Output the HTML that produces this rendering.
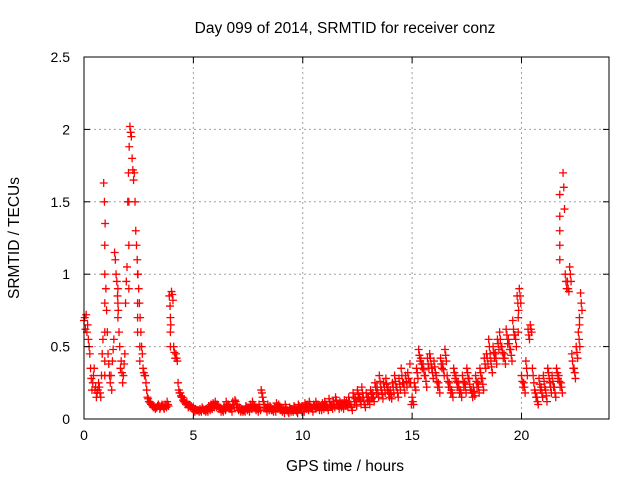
<!DOCTYPE html>
<html><head><meta charset="utf-8"><style>
html,body{margin:0;padding:0;background:#fff;}
svg{display:block;font-family:"Liberation Sans",sans-serif;}
</style></head><body>
<svg id="chart" width="640" height="480" xmlns="http://www.w3.org/2000/svg">
<rect width="640" height="480" fill="#fff"/>
<text x="345" y="33" font-size="15.5" text-anchor="middle">Day 099 of 2014, SRMTID for receiver conz</text>
<text x="345" y="471" font-size="15.5" text-anchor="middle">GPS time / hours</text>
<text x="19" y="238" font-size="15.5" text-anchor="middle" transform="rotate(-90 19 238)">SRMTID / TECUs</text>
<g id="grid"></g><g id="marks"></g><g id="axes"></g>
</svg>
<script>
const xTicks=[0,5,10,15,20];
const yTicks=[0,0.5,1,1.5,2,2.5];
const yTickLabels=["0","0.5","1","1.5","2","2.5"];
const seriesA=[.68,.72,.55,.35,.25,.2,.18,.22,.3,1.63,
.9,.45,.25,.4,1.15,.95,.6,.4,.3,.8,
1.5,2.02,1.8,1.7,1.2,.9,.6,.35,.3,.15,
.12,.1,.09,.08,.1,.08,.09,.1,.12,.85,
.88,.5,.45,.25,.18,.15,.12,.12,.1,.09,
.08,.07,.06,.07,.08,.06,.07,.09,.1,.11,
.12,.1,.08,.07,.09,.12,.1,.08,.12,.13,
.1,.08,.07,.06,.09,.08,.1,.12,.09,.08,
.1,.2,.12,.08,.1,.09,.07,.08,.11,.1,
.08,.07,.1,.06,.08,.07,.09,.06,.1,.08,
.09,.11,.1,.12,.08,.1,.12,.1,.09,.11,
.12,.1,.14,.1,.12,.15,.1,.12,.11,.13,
.12,.15,.1,.18,.14,.2,.15,.22,.12,.18,
.15,.2,.18,.25,.22,.3,.2,.25,.28,.22,
.2,.25,.3,.22,.28,.35,.25,.3,.32,.38,
.15,.25,.35,.48,.42,.38,.3,.42,.45,.35,
.4,.3,.25,.42,.38,.48,.3,.25,.2,.35,
.3,.25,.2,.3,.25,.35,.28,.2,.22,.3,
.25,.35,.28,.42,.45,.55,.4,.5,.45,.55,
.6,.5,.45,.62,.55,.48,.68,.58,.85,.9,
.3,.25,.4,.62,.65,.35,.2,.15,.28,.22,
.3,.2,.35,.25,.3,.22,.35,.3,.25,1.7,
1.0,.95,1.05,.45,.35,.5,.6,.87];
const seriesB=[.62,.65,.45,.2,.35,.15,.25,.15,.55,1.35,
.6,.3,.2,.55,1.0,.75,.35,.25,.45,1.05,
1.88,1.95,1.65,1.3,1.0,.7,.45,.3,.2,.12,
.1,.08,.07,.09,.07,.1,.07,.08,.09,.65,
.82,.42,.4,.18,.15,.12,.1,.08,.08,.07,
.05,.06,.05,.05,.06,.05,.05,.06,.07,.08,
.08,.07,.05,.05,.06,.08,.07,.05,.08,.1,
.06,.05,.05,.05,.06,.05,.07,.08,.06,.05,
.06,.15,.08,.05,.06,.06,.05,.05,.07,.06,
.05,.04,.06,.04,.05,.05,.06,.04,.07,.05,
.05,.07,.06,.08,.05,.07,.08,.06,.06,.07,
.08,.06,.09,.07,.08,.1,.07,.08,.07,.09,
.08,.1,.06,.12,.09,.14,.1,.15,.08,.12,
.1,.14,.12,.18,.15,.22,.14,.18,.2,.15,
.14,.18,.22,.15,.2,.25,.18,.22,.25,.1,
.1,.2,.28,.4,.35,.3,.22,.35,.38,.28,
.32,.22,.18,.35,.3,.4,.22,.18,.15,.28,
.22,.18,.15,.22,.18,.28,.2,.15,.16,.22,
.18,.28,.2,.35,.38,.45,.32,.42,.38,.48,
.5,.42,.38,.52,.48,.4,.58,.5,.75,.8,
.22,.18,.3,.55,.6,.25,.15,.1,.2,.15,
.22,.12,.28,.18,.22,.15,.28,.22,.18,1.45,
.9,.88,.95,.35,.28,.42,.5,.75];
const seriesC=[.7,.6,.5,.28,.3,.22,.2,.18,.45,1.5,
.75,.38,.3,.48,1.1,.85,.5,.32,.38,.95,
1.7,1.98,1.72,1.5,1.1,.8,.5,.32,.25,.14,
.11,.09,.08,.08,.09,.09,.08,.09,.1,.78,
.86,.46,.42,.2,.16,.13,.11,.1,.09,.08,
.07,.06,.06,.06,.07,.06,.06,.08,.09,.1,
.1,.09,.07,.06,.08,.1,.09,.07,.1,.12,
.08,.07,.06,.06,.08,.07,.09,.1,.08,.07,
.08,.18,.1,.07,.08,.08,.06,.07,.09,.08,
.07,.06,.08,.05,.07,.06,.08,.05,.09,.07,
.07,.09,.08,.1,.07,.09,.1,.08,.08,.09,
.1,.08,.12,.09,.1,.13,.09,.1,.09,.11,
.1,.12,.08,.15,.12,.17,.13,.18,.1,.15,
.13,.17,.15,.22,.18,.26,.17,.22,.24,.18,
.17,.22,.26,.18,.24,.3,.22,.26,.28,.25,
.12,.22,.32,.44,.38,.34,.26,.38,.42,.32,
.36,.26,.22,.38,.34,.44,.26,.22,.18,.32,
.26,.22,.18,.26,.22,.32,.24,.18,.19,.26,
.22,.32,.24,.38,.42,.5,.36,.46,.42,.52,
.55,.46,.42,.58,.52,.44,.62,.55,.8,.85,
.26,.22,.35,.58,.62,.3,.18,.12,.24,.18,
.26,.16,.32,.22,.26,.18,.32,.26,.22,1.6,
.95,.9,1.0,.4,.32,.46,.55,.8];
const extraT=[0.95,0.95,0.95,0.95,0.95,0.95,1.55,1.55,1.55,2.05,2.05,2.05,2.45,2.45,2.45,2.45,2.55,2.55,3.95,3.95,3.95,19.85,19.85,21.75,21.75,21.75,21.75,21.75,22.65,22.65];
const extraV=[1.2,1.0,0.8,0.6,0.4,0.3,0.9,0.8,0.7,1.5,1.2,0.9,1.0,0.8,0.7,0.6,0.5,0.4,0.7,0.6,0.5,0.7,0.6,1.55,1.4,1.3,1.2,1.1,0.7,0.65];
const L=84,R=609,T=57,B=419,XMAX=24,YMAX=2.5;
const sx=v=>L+v/XMAX*(R-L), sy=v=>B-v/YMAX*(B-T);
const NS="http://www.w3.org/2000/svg";
function mk(tag,attrs,parent){const e=document.createElementNS(NS,tag);for(const k in attrs)e.setAttribute(k,attrs[k]);parent.appendChild(e);return e;}
const grid=document.getElementById('grid'),marks=document.getElementById('marks'),axes=document.getElementById('axes');
xTicks.forEach(t=>{const x=sx(t);
 if(t>0){const g=mk('line',{x1:x,x2:x,y1:T,y2:B,stroke:'#a0a0a0','stroke-dasharray':'2,3'},grid);
 
 }
 mk('line',{x1:x,x2:x,y1:B,y2:B-6,stroke:'#000'},axes);mk('line',{x1:x,x2:x,y1:T,y2:T+6,stroke:'#000'},axes);
 const tx=mk('text',{x:x,y:B+21,'font-size':14,'text-anchor':'middle'},axes);tx.textContent=t;
 
 });
yTicks.forEach((t,i)=>{const y=sy(t);
 if(t>0&&t<YMAX){const g=mk('line',{x1:L,x2:R,y1:y,y2:y,stroke:'#a0a0a0','stroke-dasharray':'2,3'},grid);
 
 }
 mk('line',{x1:L,x2:L+6,y1:y,y2:y,stroke:'#000'},axes);mk('line',{x1:R,x2:R-6,y1:y,y2:y,stroke:'#000'},axes);
 const tx=mk('text',{x:L-14,y:y+5,'font-size':14,'text-anchor':'end'},axes);tx.textContent=yTickLabels[i];
 
 });
const frame=mk('rect',{x:L,y:T,width:R-L,height:B-T,fill:'none',stroke:'#000'},axes);


function plus(t,v){const x=sx(t),y=sy(v);
 const p=mk('path',{d:`M${x-4} ${y}H${x+4}M${x} ${y-4}V${y+4}`,stroke:'#ff0000','stroke-width':1.3,fill:'none'},marks);
 
 }
seriesA.forEach((v,i)=>plus(i*0.1,v));
seriesC.forEach((v,i)=>plus(i*0.1+0.033,v));
seriesB.forEach((v,i)=>plus(i*0.1+0.066,v));
extraT.forEach((t,i)=>plus(t,extraV[i]));
</script>
</body></html>
